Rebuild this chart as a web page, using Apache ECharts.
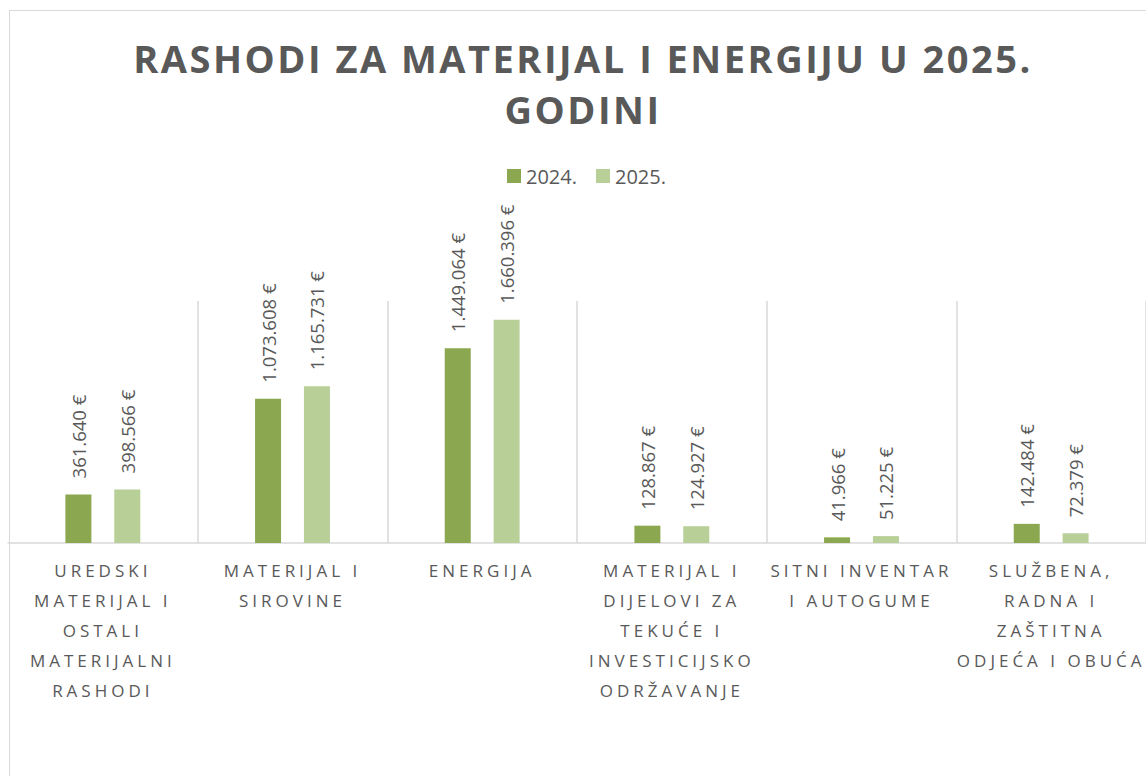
<!DOCTYPE html>
<html>
<head>
<meta charset="utf-8">
<script src="https://cdn.jsdelivr.net/npm/echarts@6/dist/echarts.min.js"></script>
<style>
  html, body { margin: 0; padding: 0; background: #fff; overflow: hidden; }
  #frame { position: absolute; left: 9px; top: 10px; width: 1200px; height: 800px;
           border-left: 1px solid #d9d9d9; border-top: 1px solid #d9d9d9; }
  #chart { position: absolute; left: 0; top: 0; width: 1166px; height: 776px; }
  /* Excel-style letter spacing for title and category labels */
  #chart text[style*="38px"] { letter-spacing: 2.5px; }
  #chart text[style*="17px"] { letter-spacing: 4px; }
</style>
</head>
<body>
<div id="frame"></div>
<div id="chart"></div>
<script>
const titleText = "RASHODI ZA MATERIJAL I ENERGIJU U 2025.\nGODINI";
const categories = [
  "UREDSKI\nMATERIJAL I\nOSTALI\nMATERIJALNI\nRASHODI",
  "MATERIJAL I\nSIROVINE",
  "ENERGIJA",
  "MATERIJAL I\nDIJELOVI ZA\nTEKUĆE I\nINVESTICIJSKO\nODRŽAVANJE",
  "SITNI INVENTAR\nI AUTOGUME",
  "SLUŽBENA,\nRADNA I\nZAŠTITNA\nODJEĆA I OBUĆA"
];
const seriesNames = ["2024.", "2025."];
const values2024 = [361640, 1073608, 1449064, 128867, 41966, 142484];
const values2025 = [398566, 1165731, 1660396, 124927, 51225, 72379];
const colors = ["#8ba74f", "#b8cf98"];

const fmt = (v) => String(v).replace(/\B(?=(\d{3})+(?!\d))/g, ".") + " €";

const chart = echarts.init(document.getElementById("chart"), null, { renderer: "svg" });

const barLabel = {
  show: true,
  position: "top",
  rotate: 90,
  align: "left",
  verticalAlign: "middle",
  distance: 16,
  color: "#595959",
  fontSize: 18.5,
  fontFamily: "Open Sans",
  formatter: (p) => fmt(p.value)
};

chart.setOption({
  animation: false,
  title: {
    text: titleText,
    left: "center",
    top: 27,
    textStyle: {
      color: "#595959",
      fontSize: 38,
      fontWeight: "bold",
      fontFamily: "Open Sans",
      lineHeight: 51
    }
  },
  legend: {
    data: seriesNames,
    left: 502,
    top: 161,
    itemWidth: 14,
    itemHeight: 14,
    itemGap: 19,
    icon: "rect",
    textStyle: { color: "#595959", fontSize: 20, fontFamily: "Open Sans" }
  },
  grid: { left: 8, right: 20, top: 301, bottom: 233, containLabel: false },
  xAxis: {
    type: "category",
    data: categories,
    axisLine: { lineStyle: { color: "#d9d9d9", width: 1.5 } },
    axisTick: { show: false },
    splitLine: {
      show: true,
      // inner boundaries only, the outer edges sit on the chart frame
      interval: (i) => i > 0 && i < categories.length,
      lineStyle: { color: "#d9d9d9", width: 1.5 }
    },
    axisLabel: {
      interval: 0,
      margin: 12,
      color: "#595959",
      fontSize: 17,
      lineHeight: 30,
      fontFamily: "Open Sans"
    }
  },
  yAxis: {
    type: "value",
    min: 0,
    max: 1800000,
    show: false,
    splitLine: { show: false }
  },
  series: [
    {
      name: seriesNames[0],
      type: "bar",
      data: values2024,
      barWidth: 26,
      barGap: "88%",
      itemStyle: { color: colors[0] },
      label: barLabel
    },
    {
      name: seriesNames[1],
      type: "bar",
      data: values2025,
      barWidth: 26,
      itemStyle: { color: colors[1] },
      label: barLabel
    }
  ]
});
</script>
</body>
</html>
